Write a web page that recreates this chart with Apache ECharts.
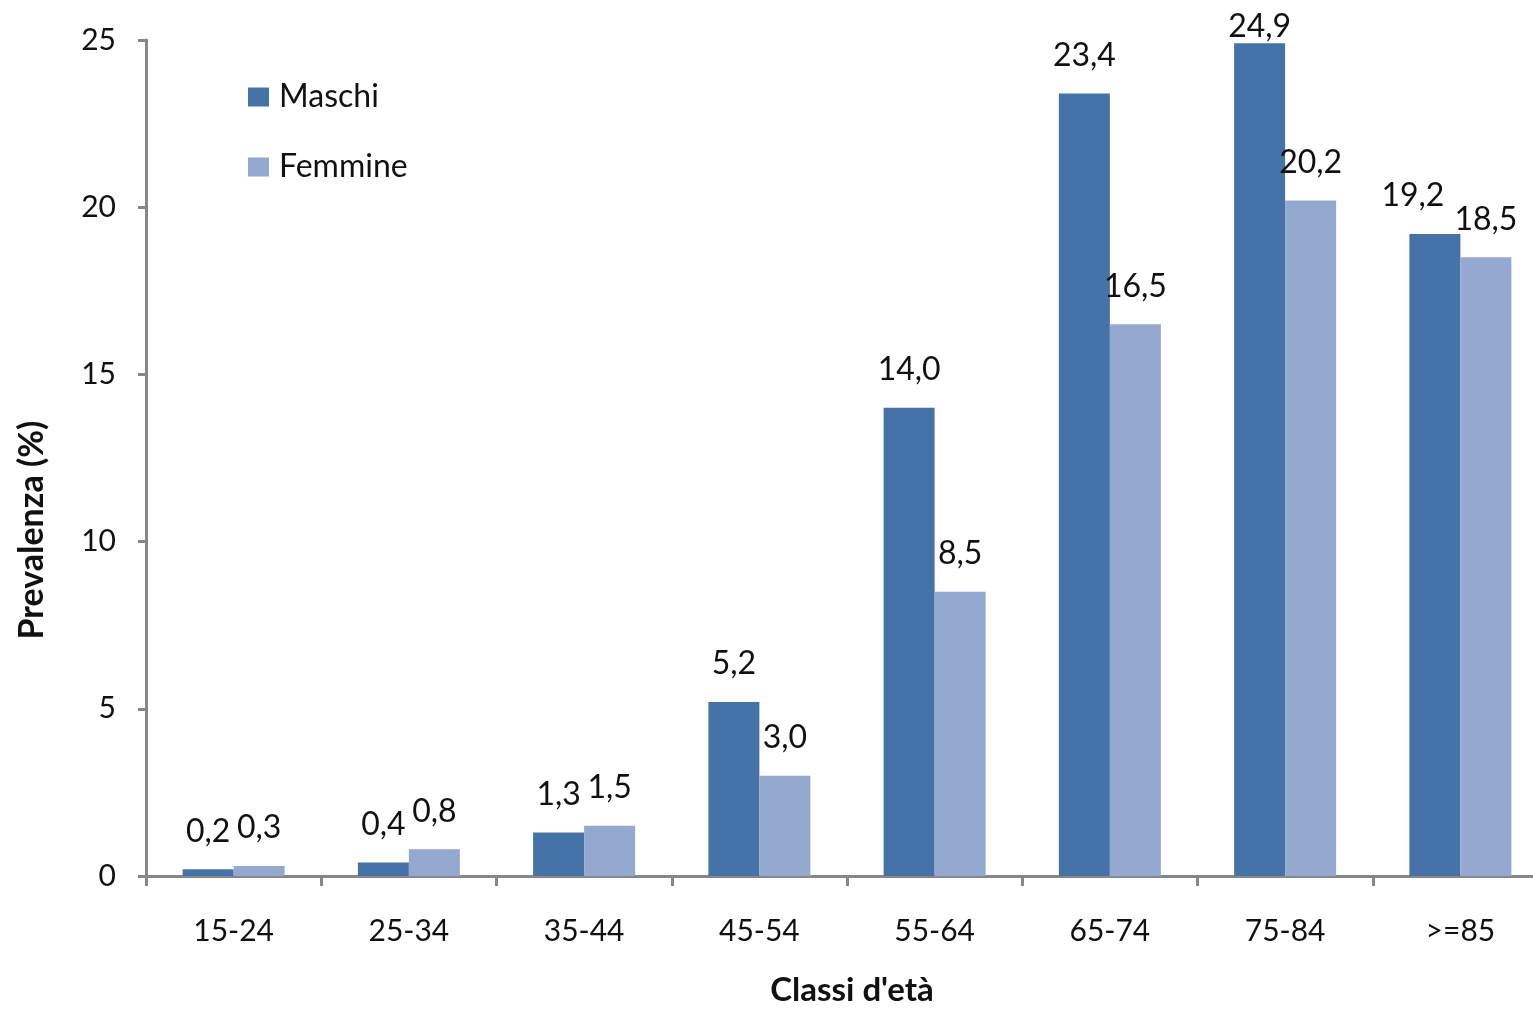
<!DOCTYPE html>
<html>
<head>
<meta charset="utf-8">
<script src="https://cdn.jsdelivr.net/npm/echarts@6/dist/echarts.min.js"></script>
<style>
  html, body { margin: 0; padding: 0; background: #ffffff; overflow: hidden; }
  /* the plot runs slightly past the right edge of the page, so the canvas is wider than the view */
  #chart { width: 1560px; height: 1009px; }
</style>
</head>
<body>
<div id="chart"></div>
<script>
// Age classes and prevalence (%) by sex
var categories = ['15-24', '25-34', '35-44', '45-54', '55-64', '65-74', '75-84', '>=85'];
var maschi = [0.2, 0.4, 1.3, 5.2, 14.0, 23.4, 24.9, 19.2];
var femmine = [0.3, 0.8, 1.5, 3.0, 8.5, 16.5, 20.2, 18.5];

var FONT = 'Lato, "Open Sans", sans-serif';
var AXIS_GREY = '#878787';
var TEXT = '#111111';

function fmt(v) { return v.toFixed(1).replace('.', ','); }

function valueLabel() {
  return {
    show: true,
    position: 'top',
    distance: 22,
    color: TEXT,
    fontFamily: FONT,
    fontSize: 32,
    formatter: function (p) { return fmt(p.value); }
  };
}

// the tallest bar's label is pulled down so it stays inside the plot;
// when two tall neighbouring labels would collide, the left one steps aside
var maxVal = Math.max.apply(null, maschi.concat(femmine));
function withLabels(values, other, isLeft) {
  return values.map(function (v, i) {
    var lbl = {};
    if (v === maxVal) lbl.distance = 1;
    if (isLeft && v > 5 && Math.abs(v - other[i]) < 1.5) lbl.offset = [-22, 0];
    return Object.keys(lbl).length ? { value: v, label: lbl } : v;
  });
}

var chart = echarts.init(document.getElementById('chart'), null, { renderer: 'canvas' });
chart.setOption({
  animation: false,
  backgroundColor: '#ffffff',
  textStyle: { fontFamily: FONT },
  grid: { left: 146, top: 40, width: 1402, height: 836, containLabel: false },
  legend: {
    orient: 'vertical',
    left: 248,
    top: 81,
    padding: 0,
    itemWidth: 21,
    itemHeight: 19,
    itemGap: 38,
    icon: 'rect',
    textStyle: { fontFamily: FONT, fontSize: 32, color: TEXT, padding: [0, 0, 0, 5] },
    data: ['Maschi', 'Femmine']
  },
  graphic: [
    {
      type: 'text',
      x: 32,
      y: 530,
      rotation: Math.PI / 2,
      style: {
        text: 'Prevalenza (%)',
        fontFamily: FONT,
        fontSize: 34,
        fontWeight: 'bold',
        fill: TEXT,
        align: 'center',
        verticalAlign: 'middle'
      }
    },
    {
      type: 'text',
      x: 852,
      y: 990,
      style: {
        text: "Classi d'età",
        fontFamily: FONT,
        fontSize: 33,
        fontWeight: 'bold',
        fill: TEXT,
        align: 'center',
        verticalAlign: 'middle'
      }
    }
  ],
  xAxis: {
    type: 'category',
    data: categories,
    axisLine: { lineStyle: { color: AXIS_GREY, width: 3 } },
    axisTick: { show: true, length: 10, lineStyle: { color: AXIS_GREY, width: 3 } },
    axisLabel: { margin: 40, fontFamily: FONT, fontSize: 30, color: TEXT },
    splitLine: { show: false }
  },
  yAxis: {
    type: 'value',
    min: 0,
    max: 25,
    interval: 5,
    axisLine: { show: true, lineStyle: { color: AXIS_GREY, width: 3 } },
    axisTick: { show: true, length: 8, lineStyle: { color: AXIS_GREY, width: 3 } },
    axisLabel: { margin: 30, fontFamily: FONT, fontSize: 30, color: TEXT },
    splitLine: { show: false }
  },
  series: [
    {
      name: 'Maschi',
      type: 'bar',
      data: withLabels(maschi, femmine, true),
      barWidth: 51,
      barGap: '0%',
      itemStyle: { color: '#4572A7' },
      label: valueLabel()
    },
    {
      name: 'Femmine',
      type: 'bar',
      data: withLabels(femmine, maschi, false),
      barWidth: 51,
      barGap: '0%',
      itemStyle: { color: '#93A9CF' },
      label: valueLabel()
    }
  ]
});
</script>
</body>
</html>
